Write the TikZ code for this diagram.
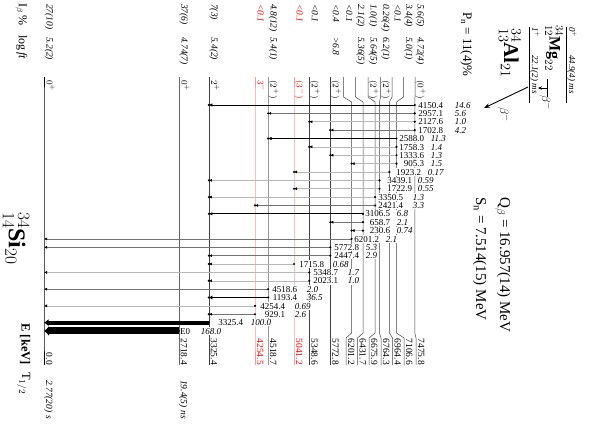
\documentclass[tikz,border=0pt]{standalone}
\usepackage{fontspec}
\setmainfont{Liberation Serif}
\usetikzlibrary{arrows.meta}
\newcommand\lvl[4]{\draw[#4] (#1,77) -- (#1,97) -- (#2,102) -- (#2,333) -- (#3,338) -- (#3,365);}
\newcommand\toplab[6]{%
  \node[rot,anchor=base west,text=#6] (#1i) at (#2,4) {\textit{#3}};
  \node[rot,anchor=base west,text=#6] (#1f) at (#2,37) {\textit{#4}};
  \node[rot,anchor=base west,text=#6] (#1s) at (#2,80) {#5};}
\newcommand\botlab[4]{\node[rot,anchor=base east,text=#4] (#1e) at (#2,365) {#3};}
\newcommand\trn[8]{%
  \pgfmathsetmacro\yy{105+(#1-1)*8.37}%
  \coordinate (p#1) at (#2,\yy);
  \coordinate (d#1) at (#3,\yy);
  \draw[#4] (p#1) -- (d#1);
  \fill (p#1) circle[radius=1.2];
  \ifdim #3pt>50pt \fill (d#1) circle[radius=1.2];\fi
  \node[tlab,anchor=east] (e#1) at (#6,\yy) {#5};
  \node[tlab,anchor=west] (i#1) at (#8,\yy) {\textit{#7}};}
\begin{document}
\begin{tikzpicture}[x=1pt,y=-1pt,
  rot/.style={rotate=-90,inner sep=0pt,font=\fontsize{9.5}{11}\selectfont},
  tlab/.style={inner sep=0.6pt,fill=white,font=\fontsize{9}{10}\selectfont,text height=6.3pt,text depth=0pt},
  lvk/.style={draw=black!75,line width=0.5pt},
  lvg/.style={draw=black!60,line width=0.5pt},
  lvg2/.style={draw=black!40,line width=1pt},
  lvr/.style={draw=red!40,line width=1pt},
  tw/.style={draw=black!28,line width=0.5pt,-{Latex[length=3pt,width=3pt,color=black]}},
  tm/.style={draw=black!55,line width=0.6pt,-{Latex[length=3pt,width=3pt,color=black]}},
  ts/.style={draw=black,line width=0.9pt,-{Latex[length=3.5pt,width=3.5pt]}},
  tvs/.style={draw=black,line width=1.8pt,-{Latex[length=3.5pt,width=4.5pt]}},
  tc/.style={draw=black,line width=3.8pt,-{Latex[length=4.5pt,width=7pt]}},
  te/.style={draw=black,line width=7pt,-{Latex[length=5pt,width=10pt]}}]
\useasboundingbox (0,0) rectangle (608,424);

% levels
\lvl{44}{44}{44}{line width=0.8pt,black}
\lvl{178.8}{178.8}{178.8}{lvg}
\lvl{208.9}{208.9}{208.9}{lvk}
\lvl{255.0}{255.0}{255.0}{lvr}
\lvl{268.1}{268.1}{268.1}{lvg2}
\lvl{294.0}{294.0}{294.0}{lvr}
\lvl{309.3}{309.3}{309.3}{lvk}
\lvl{330.3}{330.3}{330.3}{lvk}
\lvl{343.5}{351.6}{346}{lvk}
\lvl{355.5}{363.0}{357.5}{lvk}
\lvl{368}{375.1}{369}{lvk}
\lvl{380.5}{379.5}{381}{lvk}
\lvl{392}{389.4}{392.5}{lvk}
\lvl{403.5}{396.5}{404}{lvk}
\lvl{415}{414.8}{416}{lvk}

% top labels
\toplab{La}{46.5}{27(10)}{5.2(2)}{$0^+$}{black}
\toplab{Lb}{181.3}{37(6)}{4.74(7)}{$0^+$}{black}
\toplab{Lc}{211.4}{7(3)}{5.4(2)}{$2^+$}{black}
\toplab{Ld}{257.5}{<0.1}{}{$3^-$}{red}
\toplab{Le}{270.6}{4.8(12)}{5.4(1)}{$(2^+)$}{black}
\toplab{Lf}{296.5}{<0.1}{}{$(3^-)$}{red}
\toplab{Lg}{311.8}{<0.1}{}{$(2^+)$}{black}
\toplab{Lh}{332.8}{<0.4}{>6.8}{$(2^+)$}{black}
\toplab{Lj}{346}{<0.1}{}{}{black}
\toplab{Lk}{358}{2.1(2)}{5.36(5)}{}{black}
\toplab{Ll}{370.5}{1.0(1)}{5.64(5)}{$(2^+)$}{black}
\toplab{Lm}{383}{0.26(4)}{6.2(1)}{$(2^+)$}{black}
\toplab{Ln}{394.5}{<0.1}{}{}{black}
\toplab{Lo}{406}{3.4(4)}{5.0(1)}{}{black}
\toplab{Lp}{417.5}{5.6(5)}{4.72(4)}{$(0^+)$}{black}

% bottom labels
\botlab{Ba}{46}{0.0}{black}
\botlab{Bb}{180.8}{2718.4}{black}
\botlab{Bc}{210.9}{3325.4}{black}
\botlab{Bd}{257}{4254.5}{red}
\botlab{Be}{270}{4518.7}{black}
\botlab{Bf}{296}{5041.2}{red}
\botlab{Bg}{311.3}{5348.6}{black}
\botlab{Bh}{332.3}{5772.8}{black}
\botlab{Bj}{348}{6201.2}{black}
\botlab{Bk}{359.5}{6431.7}{black}
\botlab{Bl}{371}{6675.9}{black}
\botlab{Bm}{383}{6764.3}{black}
\botlab{Bn}{394.5}{6964.4}{black}
\botlab{Bo}{406}{7106.6}{black}
\botlab{Bp}{418}{7475.8}{black}
\node[rot,anchor=base west] (ta) at (46,380) {\textit{2.77(20) s}};
\node[rot,anchor=base west] (tb) at (180.8,380) {\textit{19.4(5) ns}};

% transitions
\trn{1}{414.8}{208.9}{ts}{4150.4}{444}{14.6}{454}
\trn{2}{414.8}{268.1}{tm}{2957.1}{444}{5.6}{454}
\trn{3}{414.8}{309.3}{tw}{2127.6}{444}{1.0}{454}
\trn{4}{414.8}{330.3}{tm}{1702.8}{444}{4.2}{454}
\trn{5}{396.5}{268.1}{ts}{2588.0}{425}{11.3}{430}
\trn{6}{396.5}{309.3}{tw}{1758.3}{425}{1.4}{430}
\trn{7}{396.5}{330.3}{tw}{1333.6}{425}{1.3}{430}
\trn{8}{396.5}{351.6}{tw}{905.3}{425}{1.5}{430}
\trn{9}{389.4}{294.0}{tw}{1923.2}{422}{0.17}{427}
\trn{10}{379.5}{208.9}{tw}{3439.1}{413}{0.59}{417}
\trn{11}{379.5}{294.0}{tw}{1722.9}{413}{0.55}{417}
\trn{12}{375.1}{208.9}{tw}{3350.5}{404}{1.3}{412}
\trn{13}{375.1}{255.0}{tm}{2421.4}{404}{3.3}{412}
\trn{14}{363.0}{208.9}{ts}{3106.5}{391}{6.8}{396}
\trn{15}{363.0}{330.3}{tm}{658.7}{391}{2.1}{396}
\trn{16}{363.0}{351.6}{tw}{230.6}{391}{0.74}{396}
\trn{17}{351.6}{44}{tm}{6201.2}{380}{2.1}{385}
\trn{18}{330.3}{44}{tm}{5772.8}{360}{5.3}{365}
\trn{19}{330.3}{208.9}{tm}{2447.4}{360}{2.9}{365}
\trn{20}{294.0}{208.9}{tw}{1715.8}{325}{0.68}{332}
\trn{21}{309.3}{44}{tw}{5348.7}{339}{1.7}{347}
\trn{22}{309.3}{208.9}{tw}{2023.1}{339}{1.0}{347}
\trn{23}{268.1}{44}{tm}{4518.6}{298}{2.0}{306}
\trn{24}{268.1}{208.9}{tvs}{1193.4}{298}{36.5}{306}
\trn{25}{255.0}{44}{tw}{4254.4}{286}{0.69}{294}
\trn{26}{255.0}{208.9}{tm}{929.1}{286}{2.6}{294}
\trn{27}{208.9}{44}{tc}{3325.4}{244}{100.0}{250}
\trn{28}{178.8}{44}{te}{E0}{191}{168.0}{200}

% legend texts
\node[rot,anchor=base west,font=\fontsize{12}{14}\selectfont] (ib) at (19,3) {I$_\beta$ \%};
\node[rot,anchor=base west,font=\fontsize{12}{14}\selectfont] (lf) at (19,35) {log\,\textit{ft}};
\node[rot,anchor=base east,font=\fontsize{12.5}{14}\selectfont\bfseries] (ek) at (21.5,365) {E [keV]};
\node[rot,anchor=base west,font=\fontsize{12.5}{14}\selectfont] (th) at (22,372) {T$_{1/2}$};
\node[rot,anchor=base west,font=\fontsize{24}{26}\selectfont] (si) at (9,212) {${}^{34}_{14}\mathbf{Si}_{20}$};

% parent nuclei
\coordinate (alT) at (529,27); \coordinate (alB) at (529,103);
\coordinate (mgT) at (566,27); \coordinate (mgB) at (566,103);
\draw[line width=0.7pt] (alT) -- (alB);
\draw[line width=0.7pt] (mgT) -- (mgB);
\node[rot,anchor=base west,font=\fontsize{9}{10}\selectfont] (als) at (532,27) {\textit{1}$^+$};
\node[rot,anchor=base west,font=\fontsize{9}{10}\selectfont] (alh) at (532,55) {\textit{22.1(2) ms}};
\node[rot,anchor=base west,font=\fontsize{9}{10}\selectfont] (mgs) at (569,27) {\textit{0}$^+$};
\node[rot,anchor=base west,font=\fontsize{9}{10}\selectfont] (mgh) at (569,55) {\textit{44.9(4) ms}};
\node[rot,anchor=base west,font=\fontsize{21}{23}\selectfont] (al) at (504,28) {${}^{34}_{13}\mathbf{Al}_{21}$};
\node[rot,anchor=base west,font=\fontsize{16}{18}\selectfont] (mg) at (549.5,25) {${}^{34}_{12}\mathbf{Mg}_{22}$};
\coordinate (mT) at (547,79); \coordinate (mU) at (547,97);
\coordinate (mA) at (547,88); \coordinate (mB) at (538,88);
\draw[line width=0.8pt] (mT) -- (mU);
\draw[line width=0.8pt,-{Stealth[length=4pt,width=3.5pt]}] (mA) -- (mB);
\node[rot,anchor=base west,font=\fontsize{13}{15}\selectfont] (bm) at (542,95) {$\beta^-$};
\coordinate (aA) at (528,87); \coordinate (aB) at (484,108);
\draw[line width=0.9pt,-{Stealth[length=6pt,width=4.5pt]}] (aA) -- (aB);
\node[rot,anchor=base west,font=\fontsize{13}{15}\selectfont] (ba) at (500,107) {$\beta^-$};

\node[rot,anchor=base west,font=\fontsize{13}{15}\selectfont] (pn) at (463,12) {P$_\mathrm{n}$ = 11(4)\%};
\node[rot,anchor=base west,font=\fontsize{15}{17}\selectfont] (qb) at (500,197) {Q$_\beta$ = 16.957(14) MeV};
\node[rot,anchor=base west,font=\fontsize{15}{17}\selectfont] (sn) at (476,197) {S$_\mathrm{n}$ = 7.514(15) MeV};
\end{tikzpicture}
\end{document}
